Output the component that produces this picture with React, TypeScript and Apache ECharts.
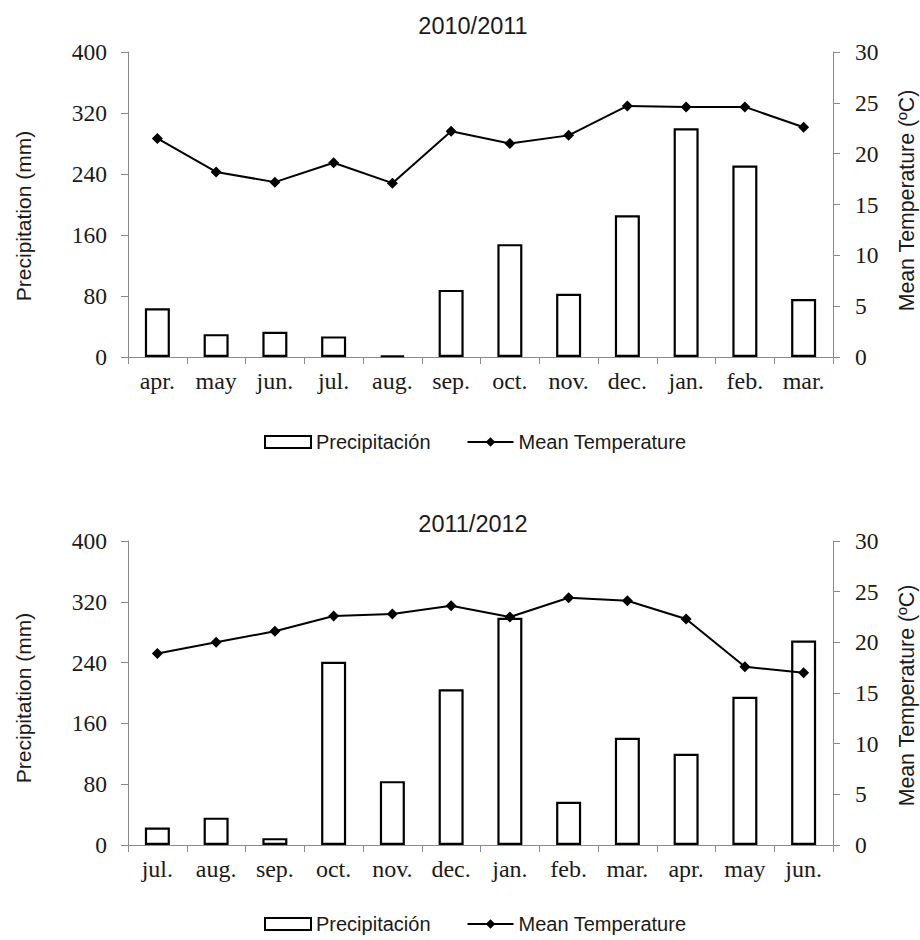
import React, { useEffect, useRef } from "react";
import * as echarts from "echarts";

const months1 = ["apr.", "may", "jun.", "jul.", "aug.", "sep.", "oct.", "nov.", "dec.", "jan.", "feb.", "mar."];
const precip1 = [64, 30, 33, 27, 2, 88, 148, 83, 186, 300, 251, 76];
const temp1 = [21.5, 18.2, 17.2, 19.1, 17.1, 22.2, 21.0, 21.8, 24.7, 24.6, 24.6, 22.6];

const months2 = ["jul.", "aug.", "sep.", "oct.", "nov.", "dec.", "jan.", "feb.", "mar.", "apr.", "may", "jun."];
const precip2 = [23, 36, 9, 241, 84, 205, 299, 57, 141, 120, 195, 269];
const temp2 = [18.9, 20.0, 21.1, 22.6, 22.8, 23.6, 22.5, 24.4, 24.1, 22.3, 17.6, 17.0];

const titles = ["2010/2011", "2011/2012"];
const precipName = "Precipitación";
const tempName = "Mean Temperature";
const leftAxisName = "Precipitation (mm)";
const rightAxisName = "Mean Temperature (ºC)";

const SERIF = "'Liberation Serif', 'Times New Roman', serif";
const SANS = "'Liberation Sans', Arial, sans-serif";
const AXIS_GRAY = "#8a8a8a";
const TEXT = "#1a1a1a";

export default function App() {
  const ref = useRef<HTMLDivElement>(null);

  useEffect(() => {
    if (!ref.current) return;
    const chart = echarts.init(ref.current, null, { renderer: "svg" });

    const grids = [
      { left: 128, right: 87, top: 52, height: 305 },
      { left: 128, right: 87, top: 541, height: 304 },
    ];
    const monthSets = [months1, months2];
    const precipSets = [precip1, precip2];
    const tempSets = [temp1, temp2];

    const xAxis: any[] = [];
    const yAxis: any[] = [];
    const series: any[] = [];

    for (let i = 0; i < 2; i++) {
      xAxis.push({
        type: "category",
        gridIndex: i,
        data: monthSets[i],
        boundaryGap: true,
        axisLine: { show: true, lineStyle: { color: AXIS_GRAY, width: 1 } },
        axisTick: { show: true, length: 7, lineStyle: { color: AXIS_GRAY } },
        axisLabel: { color: TEXT, fontFamily: SERIF, fontSize: 24, margin: 12, interval: 0 },
        splitLine: { show: false },
      });
      yAxis.push({
        type: "value",
        gridIndex: i,
        position: "left",
        min: 0,
        max: 400,
        interval: 80,
        axisLine: { show: true, lineStyle: { color: AXIS_GRAY, width: 1 } },
        axisTick: { show: true, length: 7, lineStyle: { color: AXIS_GRAY } },
        axisLabel: { color: TEXT, fontFamily: SERIF, fontSize: 23.5, margin: 21 },
        splitLine: { show: false },
      });
      yAxis.push({
        type: "value",
        gridIndex: i,
        position: "right",
        min: 0,
        max: 30,
        interval: 5,
        axisLine: { show: true, lineStyle: { color: AXIS_GRAY, width: 1 } },
        axisTick: { show: true, length: 7, lineStyle: { color: AXIS_GRAY } },
        axisLabel: { color: TEXT, fontFamily: SERIF, fontSize: 23.5, margin: 22 },
        splitLine: { show: false },
      });
      series.push({
        type: "bar",
        name: precipName,
        xAxisIndex: i,
        yAxisIndex: i * 2,
        data: precipSets[i],
        barWidth: 25,
        itemStyle: { color: "#ffffff", borderColor: "#000000", borderWidth: 2.2 },
      });
      series.push({
        type: "line",
        name: tempName,
        xAxisIndex: i,
        yAxisIndex: i * 2 + 1,
        data: tempSets[i],
        symbol: "diamond",
        symbolSize: 11,
        itemStyle: { color: "#000000" },
        lineStyle: { color: "#000000", width: 2 },
        z: 5,
      });
    }

    const legendBase = {
      orient: "horizontal",
      left: 264,
      padding: 0,
      itemWidth: 46,
      itemHeight: 12,
      itemGap: 36,
      textStyle: { color: TEXT, fontFamily: SANS, fontSize: 20 },
      data: [{ name: precipName, icon: "rect" }, { name: tempName }],
    };

    const txt = (text: string, x: number, y: number, size: number, rot = 0) => ({
      type: "text",
      x,
      y,
      rotation: rot,
      style: {
        text,
        fill: TEXT,
        font: `${size}px ${SANS}`,
        textAlign: "center",
        textVerticalAlign: "middle",
      },
    });

    chart.setOption({
      animation: false,
      backgroundColor: "#ffffff",
      grid: grids,
      xAxis,
      yAxis,
      series,
      legend: [
        { ...legendBase, top: 432 },
        { ...legendBase, top: 914 },
      ],
      graphic: [
        txt(titles[0], 473, 26, 23.5),
        txt(titles[1], 473, 524, 23.5),
        txt(leftAxisName, 23, 216, 21, Math.PI / 2),
        txt(leftAxisName, 23, 698, 21, Math.PI / 2),
        txt(rightAxisName, 906.5, 200.5, 21.3, Math.PI / 2),
        txt(rightAxisName, 906.5, 695.5, 21.3, Math.PI / 2),
      ],
    });

    return () => chart.dispose();
  }, []);

  return (
    <div
      ref={ref}
      style={{ position: "absolute", left: 0, top: 0, width: 920, height: 940 }}
    />
  );
}
